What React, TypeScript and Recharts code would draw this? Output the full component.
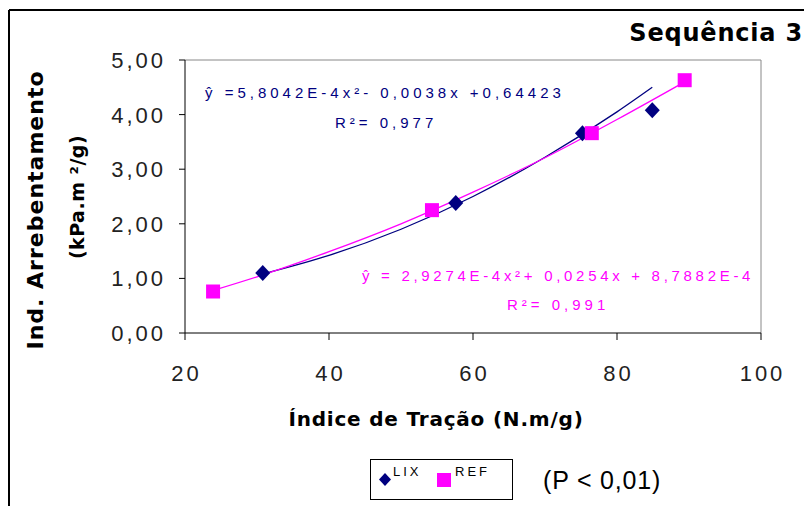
import { ScatterChart, Scatter, XAxis, YAxis, ReferenceLine } from 'recharts'

// measured points
const lixX = [30.8, 57.6, 75.2, 84.9]
const lixY = [1.1, 2.38, 3.66, 4.08]
const refX = [23.9, 54.3, 76.5, 89.4]
const refY = [0.76, 2.25, 3.66, 4.63]

// trend lines
const lixTrendX = [30.8, 40, 50, 60, 70, 80, 84.9]
const lixTrendY = [1.08, 1.42, 1.9, 2.5, 3.22, 4.05, 4.5]
const refTrendX = [23.9, 30, 40, 50, 60, 70, 80, 89.4]
const refTrendY = [0.78, 1.03, 1.49, 2.0, 2.58, 3.21, 3.91, 4.6]

const xTicks = [20, 40, 60, 80, 100]
const yTicks = [0, 1, 2, 3, 4, 5]

const NAVY = '#000080'
const MAGENTA = '#ff00ff'

const zip = (xs: number[], ys: number[]) => xs.map((x, i) => ({ x, y: ys[i] }))

const lixData = zip(lixX, lixY)
const refData = zip(refX, refY)
const lixTrend = zip(lixTrendX, lixTrendY)
const refTrend = zip(refTrendX, refTrendY)

const Diamond = (props: any) => {
  const { cx, cy } = props
  return <polygon points={`${cx},${cy - 8} ${cx + 7.5},${cy} ${cx},${cy + 8} ${cx - 7.5},${cy}`} fill={NAVY} />
}

const Square = (props: any) => {
  const { cx, cy } = props
  return <rect x={cx - 7} y={cy - 7} width={14} height={14} fill={MAGENTA} />
}

const Empty = () => <g />

const fmt = (v: number) => v.toFixed(2).replace('.', ',')

const eqFont = 'Arial, "Liberation Sans", sans-serif'
const boldFont = '"DejaVu Sans", Verdana, sans-serif'
const tickSpacing = 3

const XTick = (props: any) => {
  const { x, y, payload } = props
  return (
    <text x={x + tickSpacing / 2} y={y} dy={39} textAnchor="middle" fontFamily={eqFont} fontSize={22} letterSpacing={tickSpacing} fill="#222">
      {payload.value}
    </text>
  )
}

const YTick = (props: any) => {
  const { x, y, payload } = props
  return (
    <text x={x} y={y} dy={8} textAnchor="end" fontFamily={eqFont} fontSize={22} letterSpacing={tickSpacing} fill="#222">
      {fmt(payload.value)}
    </text>
  )
}

export default function App() {
  return (
    <div style={{ position: 'absolute', left: 0, top: 0, width: 804, height: 506, background: '#fff' }}>
      <ScatterChart width={804} height={506} margin={{ top: 60, right: 43, left: 125, bottom: 143 }}>
        <XAxis
          type="number"
          dataKey="x"
          domain={[20, 100]}
          ticks={xTicks}
          height={30}
          stroke="#000"
          tickSize={7}
          tickMargin={2}
          tick={XTick}
        />
        <YAxis
          type="number"
          dataKey="y"
          domain={[0, 5]}
          ticks={yTicks}
          width={60}
          stroke="#000"
          tickSize={6}
          tickMargin={13}
          tick={YTick}
        />
        <ReferenceLine y={5} stroke="#888" />
        <ReferenceLine x={100} stroke="#888" />
        <Scatter data={lixTrend} line={{ stroke: NAVY, strokeWidth: 1.3 }} lineJointType="monotoneX" shape={Empty} isAnimationActive={false} />
        <Scatter data={refTrend} line={{ stroke: MAGENTA, strokeWidth: 1.3 }} lineJointType="monotoneX" shape={Empty} isAnimationActive={false} />
        <Scatter data={lixData} shape={Diamond} isAnimationActive={false} />
        <Scatter data={refData} shape={Square} isAnimationActive={false} />
      </ScatterChart>

      <svg width={804} height={506} style={{ position: 'absolute', left: 0, top: 0, pointerEvents: 'none' }}>
        <line x1={9} y1={10} x2={804} y2={10} stroke="#000" strokeWidth={2} />
        <line x1={9} y1={10} x2={9} y2={506} stroke="#000" strokeWidth={2} />

        <text x={803} y={41} textAnchor="end" fontFamily={boldFont} fontWeight="bold" fontSize={24} letterSpacing={0.8} fill="#000">
          Sequência 3
        </text>

        <text x={205} y={98} fontFamily={eqFont} fontSize={15} letterSpacing={4} fill={NAVY}>
          ŷ =5,8042E-4x²- 0,0038x +0,64423
        </text>
        <text x={335} y={128} fontFamily={eqFont} fontSize={15} letterSpacing={4} fill={NAVY}>
          R²= 0,977
        </text>

        <text x={362} y={281} fontFamily={eqFont} fontSize={15} letterSpacing={3.7} fill={MAGENTA}>
          ŷ = 2,9274E-4x²+ 0,0254x + 8,7882E-4
        </text>
        <text x={507} y={310} fontFamily={eqFont} fontSize={15} letterSpacing={4} fill={MAGENTA}>
          R²= 0,991
        </text>

        <text x={436} y={426} textAnchor="middle" fontFamily={boldFont} fontWeight="bold" fontSize={20} letterSpacing={0.8} fill="#000">
          Índice de Tração (N.m/g)
        </text>

        <text transform="translate(43,210) rotate(-90)" textAnchor="middle" fontFamily={boldFont} fontWeight="bold" fontSize={22} letterSpacing={1} fill="#000">
          Ind. Arrebentamento
        </text>
        <text transform="translate(84,197) rotate(-90)" textAnchor="middle" fontFamily={boldFont} fontWeight="bold" fontSize={19} letterSpacing={0.5} fill="#000">
          (kPa.m ²/g)
        </text>

        <rect x={370.5} y={459.5} width={142} height={40} fill="#fff" stroke="#000" strokeWidth={1} />
        <polygon points="385,473 391,479.5 385,486 379,479.5" fill={NAVY} />
        <text x={393} y={476} fontFamily={eqFont} fontSize={13} letterSpacing={3} fill="#000">LIX</text>
        <rect x={437} y={473} width={14} height={14} fill={MAGENTA} />
        <text x={455} y={476} fontFamily={eqFont} fontSize={13} letterSpacing={3} fill="#000">REF</text>

        <text x={543} y={489} fontFamily={eqFont} fontSize={25} letterSpacing={0.8} fill="#000">(P &lt; 0,01)</text>
      </svg>
    </div>
  )
}
